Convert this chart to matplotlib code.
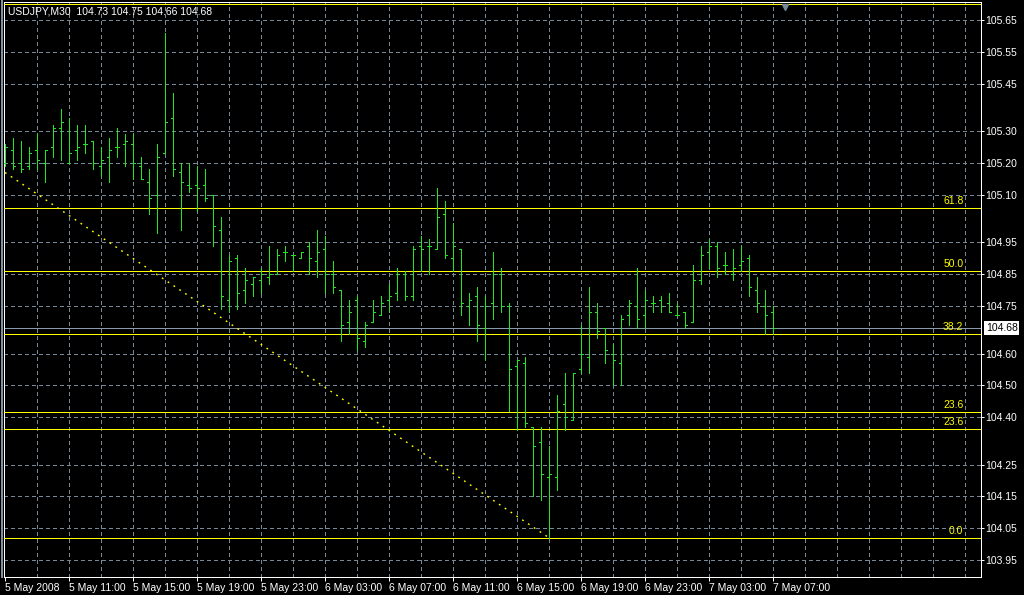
import matplotlib
matplotlib.use('Agg')
import matplotlib.pyplot as plt
from matplotlib.lines import Line2D

plt.rcParams['font.family'] = ['Liberation Sans', 'DejaVu Sans']
plt.rcParams['lines.scale_dashes'] = False

chart_title = "USDJPY,M30  104.73 104.75 104.66 104.68"

opens = [105.20, 105.24, 105.20, 105.19, 105.24, 105.20, 105.25, 105.31, 105.20, 105.24,
         105.26, 105.27, 105.19, 105.22, 105.25, 105.26, 105.26, 105.19, 105.14, 105.10,
         105.23, 105.34, 105.17, 105.13, 105.13, 105.13, 105.10, 104.99, 104.77, 104.90,
         104.80, 104.82, 104.83, 104.84, 104.85, 104.92, 104.91, 104.90, 104.94, 104.89,
         104.93, 104.85, 104.80, 104.70, 104.77, 104.64, 104.70, 104.72, 104.77, 104.79,
         104.85, 104.78, 104.94, 104.94, 104.93, 105.04, 104.90, 104.93, 104.75, 104.78,
         104.68, 104.76, 104.85, 104.75, 104.56, 104.57, 104.37, 104.32, 104.21, 104.21,
         104.44, 104.39, 104.55, 104.59, 104.73, 104.68, 104.60, 104.57, 104.72, 104.75,
         104.72, 104.76, 104.77, 104.76, 104.72, 104.73, 104.70, 104.83, 104.92, 104.94,
         104.88, 104.85, 104.88, 104.90, 104.80, 104.75, 104.73]
highs = [105.26, 105.28, 105.27, 105.25, 105.29, 105.24, 105.32, 105.37, 105.34, 105.32,
         105.32, 105.27, 105.25, 105.28, 105.31, 105.29, 105.29, 105.22, 105.18, 105.26,
         105.61, 105.42, 105.20, 105.20, 105.19, 105.18, 105.10, 105.03, 104.91, 104.91,
         104.87, 104.84, 104.87, 104.94, 104.93, 104.94, 104.91, 104.92, 104.95, 104.99,
         104.97, 104.89, 104.80, 104.77, 104.78, 104.70, 104.77, 104.78, 104.82, 104.87,
         104.86, 104.94, 104.97, 104.96, 105.12, 105.08, 105.01, 104.93, 104.79, 104.81,
         104.78, 104.92, 104.87, 104.76, 104.58, 104.59, 104.37, 104.37, 104.31, 104.47,
         104.54, 104.54, 104.69, 104.81, 104.76, 104.68, 104.63, 104.72, 104.77, 104.87,
         104.80, 104.78, 104.78, 104.79, 104.76, 104.73, 104.88, 104.94, 104.96, 104.95,
         104.92, 104.93, 104.94, 104.91, 104.84, 104.80, 104.75]
lows = [105.19, 105.18, 105.17, 105.18, 105.18, 105.14, 105.22, 105.21, 105.20, 105.21,
        105.23, 105.18, 105.16, 105.14, 105.22, 105.19, 105.15, 105.15, 105.04, 104.98,
        105.23, 105.16, 104.99, 105.11, 105.05, 105.08, 104.94, 104.74, 104.73, 104.74,
        104.76, 104.78, 104.79, 104.82, 104.85, 104.89, 104.86, 104.90, 104.85, 104.84,
        104.79, 104.79, 104.64, 104.66, 104.61, 104.62, 104.70, 104.72, 104.73, 104.77,
        104.77, 104.77, 104.86, 104.85, 104.93, 104.90, 104.86, 104.72, 104.69, 104.64,
        104.58, 104.71, 104.73, 104.42, 104.36, 104.37, 104.15, 104.14, 104.02, 104.17,
        104.36, 104.39, 104.54, 104.54, 104.65, 104.57, 104.50, 104.50, 104.69, 104.68,
        104.68, 104.73, 104.73, 104.73, 104.72, 104.68, 104.70, 104.82, 104.87, 104.84,
        104.85, 104.83, 104.86, 104.78, 104.73, 104.66, 104.66]
closes = [105.25, 105.19, 105.18, 105.23, 105.21, 105.24, 105.31, 105.33, 105.23, 105.25,
          105.26, 105.20, 105.21, 105.24, 105.25, 105.27, 105.20, 105.15, 105.09, 105.22,
          105.33, 105.18, 105.14, 105.12, 105.12, 105.09, 105.00, 104.78, 104.89, 104.79,
          104.83, 104.84, 104.85, 104.85, 104.91, 104.92, 104.91, 104.92, 104.90, 104.92,
          104.85, 104.81, 104.69, 104.73, 104.65, 104.69, 104.73, 104.76, 104.78, 104.85,
          104.78, 104.93, 104.93, 104.94, 105.03, 104.91, 104.94, 104.76, 104.77, 104.69,
          104.75, 104.85, 104.75, 104.55, 104.58, 104.38, 104.31, 104.22, 104.22, 104.42,
          104.40, 104.54, 104.60, 104.73, 104.67, 104.61, 104.58, 104.71, 104.76, 104.71,
          104.77, 104.76, 104.75, 104.73, 104.72, 104.69, 104.83, 104.91, 104.94, 104.87,
          104.88, 104.87, 104.89, 104.81, 104.76, 104.72, 104.68]

time_labels = ["5 May 2008", "5 May 11:00", "5 May 15:00", "5 May 19:00", "5 May 23:00",
               "6 May 03:00", "6 May 07:00", "6 May 11:00", "6 May 15:00", "6 May 19:00",
               "6 May 23:00", "7 May 03:00", "7 May 07:00"]
time_label_bars = [0, 8, 16, 24, 32, 40, 48, 56, 64, 72, 80, 88, 96]
price_ticks = [105.65, 105.55, 105.45, 105.30, 105.20, 105.10, 104.95, 104.85,
               104.75, 104.60, 104.50, 104.40, 104.25, 104.15, 104.05, 103.95]

fib_levels = [105.70, 105.058, 104.86, 104.662, 104.416, 104.362, 104.02]
fib_labels = ["", "61.8", "50.0", "38.2", "23.6", "23.6", "0.0"]
last_price = 104.68
trend_bars = [0, 68]
trend_prices = [105.17, 104.02]

BG = 'black'
GRID = '#778899'
BAR = '#22e622'
FIB = '#ffff00'
PX = 0.72  # one pixel in points at dpi 100

W, H = 1024, 595
fig = plt.figure(figsize=(W / 100, H / 100), dpi=100, facecolor=BG)
ax_l, ax_r, ax_t, ax_b = 4, 981, 2, 577
ax = fig.add_axes([ax_l / W, 1 - ax_b / H, (ax_r - ax_l) / W, (ax_b - ax_t) / H])
ax.set_facecolor(BG)

ppb = 8.0
ax.set_xlim((ax_l - 5) / ppb, (ax_r - 5) / ppb)
ppu = 317.65
ax.set_ylim(105.65 - (ax_b - 20) / ppu, 105.65 + (20 - ax_t) / ppu)

# grid
grid_dash = (0, (3 * PX, 3 * PX))
for b in range(4, 124, 4):
    ax.axvline(b, color=GRID, lw=PX, ls=grid_dash, antialiased=False, zorder=1)
for p in price_ticks:
    ax.axhline(p, color=GRID, lw=PX, ls=grid_dash, antialiased=False, zorder=1)

# fib lines
for lv, lab in zip(fib_levels, fib_labels):
    ax.axhline(lv, color=FIB, lw=PX, antialiased=False, zorder=3)
    if lab:
        ax.annotate(lab, xy=(119.8, lv), xytext=(0, 1.2), textcoords='offset points',
                    ha='right', va='bottom', color=FIB, fontsize=7.5, zorder=5)

# current price line
ax.axhline(last_price, color='#8a9aaa', lw=PX, antialiased=False, zorder=2)

# dotted trend line
ax.plot(trend_bars, trend_prices, color=FIB, lw=1.4 * PX,
        ls=(0, (1.8 * PX, 5.2 * PX)), antialiased=True, zorder=3)

# OHLC bars
xs = list(range(len(opens)))
tick = 0.3
ax.vlines(xs, lows, highs, color=BAR, lw=PX, antialiased=False, zorder=4)
ax.hlines(opens, [x - tick for x in xs], xs, color=BAR, lw=PX, antialiased=False, zorder=4)
ax.hlines(closes, xs, [x + tick for x in xs], color=BAR, lw=PX, antialiased=False, zorder=4)

# shift marker
ax.plot([97.5], [105.692], marker='v', ms=5, color=GRID, mec=GRID, zorder=6, clip_on=False)

for s in ax.spines.values():
    s.set_color('white')
    s.set_linewidth(PX)

ax.set_xticks(time_label_bars)
ax.set_xticklabels(time_labels, ha='left')
ax.set_yticks(price_ticks)
ax.set_yticklabels([f"{p:.2f}" for p in price_ticks])
ax.yaxis.tick_right()
ax.tick_params(axis='x', colors='white', labelcolor='white', length=3, width=PX,
               pad=1.0, labelsize=7.5)
ax.tick_params(axis='y', colors='white', labelcolor='white', length=2.2, width=PX,
               pad=1.0, labelsize=7.5, left=False, right=True, labelleft=False, labelright=True)

fig.text(8 / W, 1 - 11 / H, chart_title, color='white', fontsize=7.5, ha='left', va='center')

fig.text(986 / W, 1 - 328 / H, f"{last_price:.2f}", color='black', fontsize=7.5,
         ha='left', va='center',
         bbox=dict(boxstyle='square,pad=0.15', fc='white', ec='white', lw=0))

fig.add_artist(Line2D([1.5 / W, 1.5 / W], [1 - ax_b / H, 1], color='#8090a0', lw=2 * PX,
                      transform=fig.transFigure))

fig.savefig('out.png', dpi=100, facecolor=BG)
